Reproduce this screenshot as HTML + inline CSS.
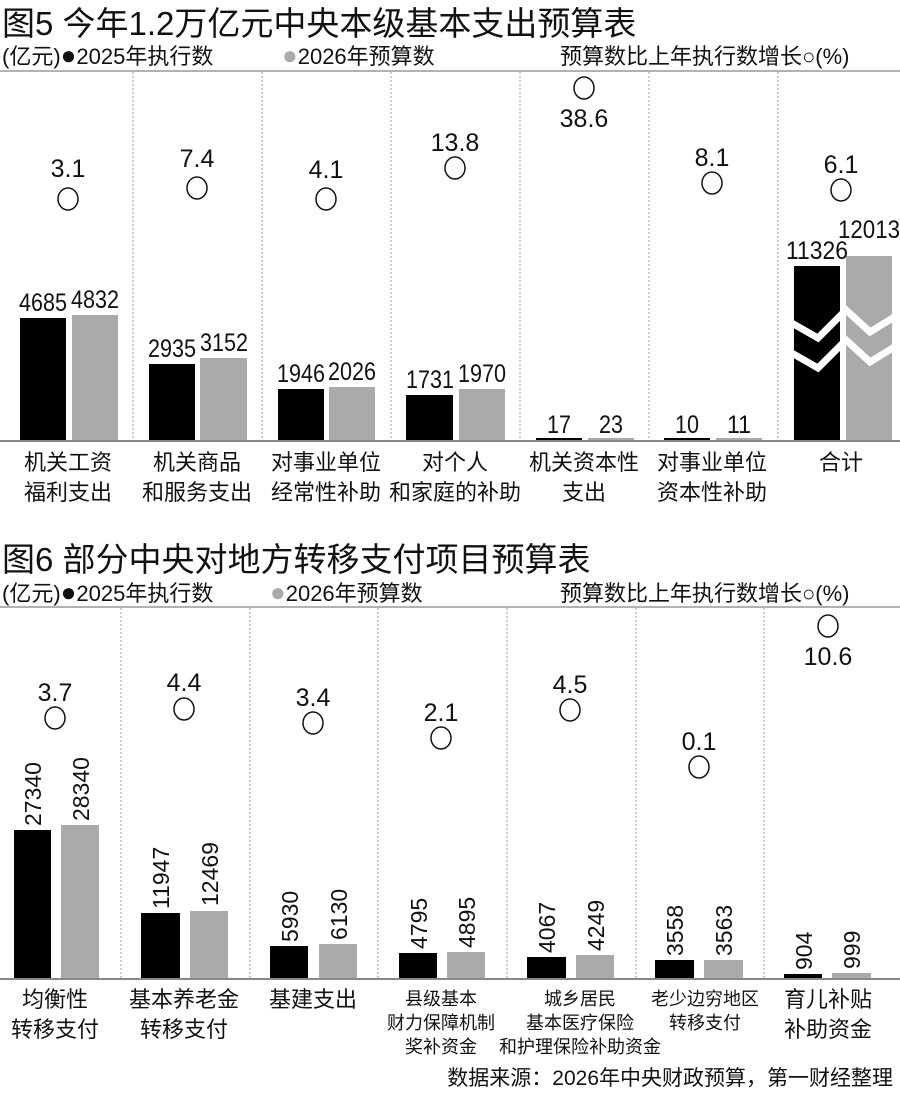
<!DOCTYPE html>
<html><head><meta charset="utf-8"><style>
body{margin:0;background:#fff}
svg{display:block}
text{font-family:"Liberation Sans","Noto Sans CJK SC",sans-serif;fill:#111}
.t{font-size:33px}
.lg{font-size:22px}
.n{font-size:25px;text-anchor:middle}
.c{font-size:22px;text-anchor:middle}
.s{font-size:18px;text-anchor:middle}
.sep{stroke:#999;stroke-width:1;stroke-dasharray:2,2}
.dot{font-size:26px}
</style></head><body>
<svg width="900" height="1099" viewBox="0 0 900 1099">
<!-- Chart 5 -->
<text class="t" x="2" y="35">图5 今年1.2万亿元中央本级基本支出预算表</text>
<text class="lg" x="2" y="64">(亿元)<tspan class="dot">●</tspan>2025年执行数</text>
<text class="lg" x="282" y="64"><tspan class="dot" fill="#aaa">●</tspan>2026年预算数</text>
<text class="lg" x="560" y="64">预算数比上年执行数增长○(%)</text>
<line x1="0" y1="71" x2="900" y2="71" stroke="#999" stroke-width="1.5"/>
<g class="sep">
<line x1="133" y1="72" x2="133" y2="440"/><line x1="262" y1="72" x2="262" y2="440"/>
<line x1="391" y1="72" x2="391" y2="440"/><line x1="520" y1="72" x2="520" y2="440"/>
<line x1="649" y1="72" x2="649" y2="440"/><line x1="778" y1="72" x2="778" y2="440"/>
</g>
<g fill="#000">
<rect x="20" y="318" width="46" height="122"/><rect x="149" y="364" width="46" height="76"/>
<rect x="278" y="389" width="46" height="51"/><rect x="406" y="395" width="47" height="45"/>
<rect x="536" y="438" width="46" height="2"/><rect x="664" y="438" width="46" height="2"/>
<rect x="794" y="266" width="46" height="174"/>
</g>
<g fill="#aaa">
<rect x="72" y="315" width="46" height="125"/><rect x="200" y="358" width="47" height="82"/>
<rect x="329" y="387" width="46" height="53"/><rect x="459" y="389" width="46" height="51"/>
<rect x="588" y="438" width="46" height="2"/><rect x="716" y="438" width="46" height="2"/>
<rect x="846" y="256" width="46" height="184"/>
</g>
<polyline points="790,322 818,338 846,310 870,332 896,316" fill="none" stroke="#fff" stroke-width="7"/>
<polyline points="790,352 818,368 846,340 870,362 896,346" fill="none" stroke="#fff" stroke-width="7"/>
<line x1="0" y1="441" x2="900" y2="441" stroke="#888" stroke-width="2"/>
<g class="n" lengthAdjust="spacingAndGlyphs">
<text x="43" y="311" textLength="48" lengthAdjust="spacingAndGlyphs">4685</text><text x="95" y="308" textLength="48" lengthAdjust="spacingAndGlyphs">4832</text>
<text x="172" y="357" textLength="48" lengthAdjust="spacingAndGlyphs">2935</text><text x="224" y="351" textLength="48" lengthAdjust="spacingAndGlyphs">3152</text>
<text x="301" y="382" textLength="48" lengthAdjust="spacingAndGlyphs">1946</text><text x="352" y="380" textLength="48" lengthAdjust="spacingAndGlyphs">2026</text>
<text x="430" y="388" textLength="48" lengthAdjust="spacingAndGlyphs">1731</text><text x="482" y="382" textLength="48" lengthAdjust="spacingAndGlyphs">1970</text>
<text x="559" y="433" textLength="24" lengthAdjust="spacingAndGlyphs">17</text><text x="611" y="433" textLength="24" lengthAdjust="spacingAndGlyphs">23</text>
<text x="687" y="433" textLength="24" lengthAdjust="spacingAndGlyphs">10</text><text x="739" y="433" textLength="24" lengthAdjust="spacingAndGlyphs">11</text>
<text x="817" y="259" textLength="62" lengthAdjust="spacingAndGlyphs">11326</text><text x="869" y="238" textLength="62" lengthAdjust="spacingAndGlyphs">12013</text>
<text x="68" y="177">3.1</text><text x="197" y="167">7.4</text><text x="326" y="178">4.1</text>
<text x="455" y="151">13.8</text><text x="584" y="127">38.6</text><text x="712" y="166">8.1</text><text x="841" y="173">6.1</text>
</g>
<g fill="none" stroke="#111" stroke-width="1.5">
<ellipse cx="68" cy="199" rx="10" ry="11"/><ellipse cx="197" cy="188" rx="10" ry="11"/>
<ellipse cx="326" cy="199" rx="10" ry="11"/><ellipse cx="455" cy="168" rx="10" ry="11"/>
<ellipse cx="584" cy="88" rx="10" ry="11"/><ellipse cx="712" cy="183" rx="10" ry="11"/>
<ellipse cx="841" cy="190" rx="10" ry="11"/>
</g>
<g class="c">
<text x="68" y="470">机关工资</text><text x="68" y="500">福利支出</text>
<text x="197" y="470">机关商品</text><text x="197" y="500">和服务支出</text>
<text x="326" y="470">对事业单位</text><text x="326" y="500">经常性补助</text>
<text x="455" y="470">对个人</text><text x="455" y="500">和家庭的补助</text>
<text x="584" y="470">机关资本性</text><text x="584" y="500">支出</text>
<text x="712" y="470">对事业单位</text><text x="712" y="500">资本性补助</text>
<text x="841" y="470">合计</text>
</g>
<!-- Chart 6 -->
<text class="t" x="2" y="571">图6 部分中央对地方转移支付项目预算表</text>
<text class="lg" x="2" y="601">(亿元)<tspan class="dot">●</tspan>2025年执行数</text>
<text class="lg" x="270" y="601"><tspan class="dot" fill="#aaa">●</tspan>2026年预算数</text>
<text class="lg" x="560" y="601">预算数比上年执行数增长○(%)</text>
<line x1="0" y1="607" x2="900" y2="607" stroke="#999" stroke-width="1.5"/>
<g class="sep">
<line x1="121" y1="608" x2="121" y2="978"/><line x1="250" y1="608" x2="250" y2="978"/>
<line x1="378" y1="608" x2="378" y2="978"/><line x1="507" y1="608" x2="507" y2="978"/>
<line x1="636" y1="608" x2="636" y2="978"/><line x1="764" y1="608" x2="764" y2="978"/>
</g>
<g fill="#000">
<rect x="14" y="830" width="37" height="148"/><rect x="141" y="913" width="39" height="65"/>
<rect x="270" y="946" width="38" height="32"/><rect x="399" y="953" width="38" height="25"/>
<rect x="527" y="957" width="39" height="21"/><rect x="655" y="960" width="39" height="18"/>
<rect x="784" y="974" width="38" height="4"/>
</g>
<g fill="#aaa">
<rect x="61" y="825" width="38" height="153"/><rect x="190" y="911" width="38" height="67"/>
<rect x="319" y="944" width="38" height="34"/><rect x="447" y="952" width="38" height="26"/>
<rect x="576" y="955" width="38" height="23"/><rect x="704" y="960" width="39" height="18"/>
<rect x="832" y="973" width="39" height="5"/>
</g>
<line x1="0" y1="979" x2="900" y2="979" stroke="#888" stroke-width="2"/>
<g style="font-size:23px">
<text transform="translate(41,826) rotate(-90)">27340</text>
<text transform="translate(89,821) rotate(-90)">28340</text>
<text transform="translate(169,909) rotate(-90)">11947</text>
<text transform="translate(218,906) rotate(-90)">12469</text>
<text transform="translate(298,942) rotate(-90)">5930</text>
<text transform="translate(347,940) rotate(-90)">6130</text>
<text transform="translate(427,949) rotate(-90)">4795</text>
<text transform="translate(475,948) rotate(-90)">4895</text>
<text transform="translate(555,953) rotate(-90)">4067</text>
<text transform="translate(604,951) rotate(-90)">4249</text>
<text transform="translate(683,956) rotate(-90)">3558</text>
<text transform="translate(732,956) rotate(-90)">3563</text>
<text transform="translate(812,970) rotate(-90)">904</text>
<text transform="translate(860,969) rotate(-90)">999</text>
</g>
<g class="n">
<text x="55" y="701">3.7</text><text x="184" y="691">4.4</text><text x="313" y="706">3.4</text>
<text x="441" y="721">2.1</text><text x="570" y="693">4.5</text><text x="699" y="750">0.1</text>
<text x="828" y="665">10.6</text>
</g>
<g fill="none" stroke="#111" stroke-width="1.5">
<ellipse cx="55" cy="718" rx="10" ry="11"/><ellipse cx="184" cy="709" rx="10" ry="11"/>
<ellipse cx="313" cy="723" rx="10" ry="11"/><ellipse cx="441" cy="738" rx="10" ry="11"/>
<ellipse cx="570" cy="710" rx="10" ry="11"/><ellipse cx="699" cy="767" rx="10" ry="11"/>
<ellipse cx="828" cy="626" rx="10" ry="11"/>
</g>
<g class="c">
<text x="55" y="1007">均衡性</text><text x="55" y="1037">转移支付</text>
<text x="184" y="1007">基本养老金</text><text x="184" y="1037">转移支付</text>
<text x="313" y="1007">基建支出</text>
<text x="828" y="1007">育儿补贴</text><text x="828" y="1037">补助资金</text>
</g>
<g class="s">
<text x="441" y="1005">县级基本</text><text x="441" y="1029">财力保障机制</text><text x="441" y="1053">奖补资金</text>
<text x="580" y="1005">城乡居民</text><text x="580" y="1029">基本医疗保险</text><text x="580" y="1053">和护理保险补助资金</text>
<text x="705" y="1005">老少边穷地区</text><text x="705" y="1029">转移支付</text>
</g>
<text x="893" y="1085" style="font-size:21px;text-anchor:end">数据来源：2026年中央财政预算，第一财经整理</text>
</svg>
</body></html>
